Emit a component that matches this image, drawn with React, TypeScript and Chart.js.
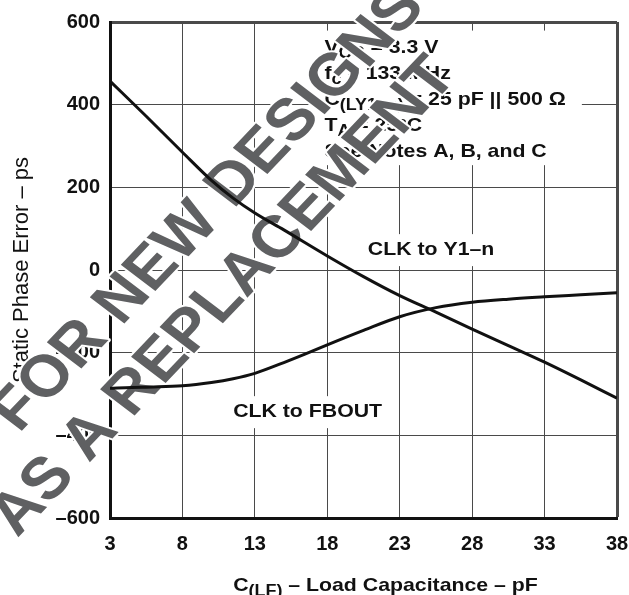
import React, { useEffect, useRef } from "react";
import { Chart, registerables } from "chart.js";

Chart.register(...registerables);

// ---- Data ----
const loadCapY1n = [3, 5.5, 8, 10, 11.5, 13, 15, 18, 20.5, 23, 25.5, 28, 30.5, 33, 35.5, 38];
const clkToY1n = [457, 372, 285, 217, 174, 138, 97, 34, -16, -62, -102, -143, -183, -223, -266, -310];
const loadCapFbout = [3, 4.5, 6, 8, 10, 11.5, 13, 15, 16.5, 18, 20.5, 23, 25.5, 28, 30.5, 33, 35.5, 38];
const clkToFbout = [-286, -284, -283, -280, -272, -263, -250, -224, -203, -181, -146, -113, -91, -78, -70.5, -65, -60, -55];
const xTickValues = [3, 8, 13, 18, 23, 28, 33, 38];
const yMin = -600;
const yMax = 600;
const yStep = 200;
const seriesNames = ["CLK to Y1–n", "CLK to FBOUT"];
// label anchors in data units (x, baseline y)
const seriesLabelAnchors = [
  [20.8, 36],
  [11.5, -356],
];
const noteAnchorX = 17.8;
const noteBaselines = [526, 462, 399, 337, 273];
const yTitle = "Static Phase Error – ps";
const watermarkLines = ["FOR NEW DESIGNS", "AS A REPLACEMENT"];

type Seg = { t: string; sub?: boolean };
const noteLines: Seg[][] = [
  [{ t: "V" }, { t: "CC", sub: true }, { t: " = 3.3 V" }],
  [{ t: "f" }, { t: "c", sub: true }, { t: " = 133 MHz" }],
  [{ t: "C" }, { t: "(LY1–n)", sub: true }, { t: " = 25 pF || 500 Ω" }],
  [{ t: "T" }, { t: "A", sub: true }, { t: " = 25°C" }],
  [{ t: "See Notes A, B, and C" }],
];
const xTitleSegs: Seg[] = [{ t: "C" }, { t: "(LF)", sub: true }, { t: " – Load Capacitance – pF" }];

const FAMILY = '"Liberation Sans", Arial, Helvetica, sans-serif';
const INK = "#111111";
const HS = 1.12; // horizontal stretch of the reference lettering

function fontFor(seg: Seg, size: number, subSize: number) {
  return `bold ${seg.sub ? subSize : size}px ${FAMILY}`;
}

function measureRich(ctx: CanvasRenderingContext2D, segs: Seg[], size: number, subSize: number) {
  let w = 0;
  for (const s of segs) {
    ctx.font = fontFor(s, size, subSize);
    w += ctx.measureText(s.t).width * HS;
  }
  return w;
}

function drawRich(
  ctx: CanvasRenderingContext2D,
  segs: Seg[],
  x: number,
  y: number,
  size: number,
  subSize: number,
  subDy: number
) {
  let cx = x;
  ctx.textAlign = "left";
  ctx.textBaseline = "alphabetic";
  for (const s of segs) {
    ctx.font = fontFor(s, size, subSize);
    const w = ctx.measureText(s.t).width;
    ctx.save();
    ctx.translate(cx, y + (s.sub ? subDy : 0));
    ctx.scale(HS, 1);
    ctx.fillText(s.t, 0, 0);
    ctx.restore();
    cx += w * HS;
  }
  return cx - x;
}

const decorPlugin = {
  id: "decor",
  beforeDraw(chart: any) {
    const { ctx, width, height } = chart;
    ctx.save();
    ctx.fillStyle = "#ffffff";
    ctx.fillRect(0, 0, width, height);
    ctx.restore();
  },
  beforeDatasetsDraw(chart: any) {
    const { ctx } = chart;
    const xs = chart.scales.x;
    const ys = chart.scales.y;
    const size = 19;
    const subSize = 16;
    ctx.save();

    // Notes block with white knockout box
    const nx = xs.getPixelForValue(noteAnchorX);
    const nb = noteBaselines.map((v) => ys.getPixelForValue(v));
    let maxW = 0;
    for (const line of noteLines) maxW = Math.max(maxW, measureRich(ctx, line, size, subSize));
    ctx.fillStyle = "#ffffff";
    ctx.fillRect(nx - 6, nb[0] - 22, maxW + 22, nb[nb.length - 1] - nb[0] + 30);
    ctx.fillStyle = INK;
    noteLines.forEach((line, i) => drawRich(ctx, line, nx, nb[i], size, subSize, 5));

    // Series labels
    seriesNames.forEach((name, i) => {
      const px = xs.getPixelForValue(seriesLabelAnchors[i][0]);
      const py = ys.getPixelForValue(seriesLabelAnchors[i][1]);
      const segs = [{ t: name }];
      const w = measureRich(ctx, segs, size, subSize);
      ctx.fillStyle = "#ffffff";
      ctx.fillRect(px - 6, py - 21, w + 12, 32);
      ctx.fillStyle = INK;
      drawRich(ctx, segs, px, py, size, subSize, 5);
    });

    // Watermark (stretched horizontally like the rest of the lettering)
    const centers = [
      [209, 210],
      [224, 297],
    ];
    const ang = (-49.5 * Math.PI) / 180;
    ctx.font = `bold 59px ${FAMILY}`;
    ctx.textAlign = "center";
    ctx.textBaseline = "middle";
    ctx.lineJoin = "round";
    watermarkLines.forEach((txt, i) => {
      ctx.save();
      ctx.translate(centers[i][0], centers[i][1]);
      ctx.scale(HS, 1);
      ctx.rotate(ang);
      ctx.strokeStyle = "#ffffff";
      ctx.lineWidth = 4;
      ctx.strokeText(txt, 0, 0);
      ctx.fillStyle = "#5f6062";
      ctx.fillText(txt, 0, 0);
      ctx.restore();
    });
    ctx.restore();
  },
  afterDraw(chart: any) {
    const { ctx, chartArea } = chart;
    ctx.save();
    ctx.fillStyle = INK;
    const size = 19;
    const subSize = 16;
    const w = measureRich(ctx, xTitleSegs, size, subSize);
    const cx = (chartArea.left + chartArea.right) / 2 + 22;
    drawRich(ctx, xTitleSegs, cx - w / 2, chartArea.bottom + 73, size, subSize, 5);
    ctx.restore();
  },
};

export default function App() {
  const canvasRef = useRef<HTMLCanvasElement | null>(null);

  useEffect(() => {
    const canvas = canvasRef.current;
    if (!canvas) return;
    const tickFont = { family: FAMILY, size: 20, weight: "bold" as const };
    const chart = new Chart(canvas, {
      type: "line",
      data: {
        datasets: [
          {
            label: seriesNames[0],
            data: loadCapY1n.map((x, i) => ({ x, y: clkToY1n[i] })),
            borderColor: INK,
            borderWidth: 3,
            pointRadius: 0,
            cubicInterpolationMode: "monotone",
            fill: false,
          },
          {
            label: seriesNames[1],
            data: loadCapFbout.map((x, i) => ({ x, y: clkToFbout[i] })),
            borderColor: INK,
            borderWidth: 3,
            pointRadius: 0,
            cubicInterpolationMode: "monotone",
            fill: false,
          },
        ],
      },
      options: {
        responsive: false,
        animation: false,
        devicePixelRatio: 1,
        layout: { padding: { left: 0, right: 12, top: 12, bottom: 0 } },
        plugins: {
          legend: { display: false },
          tooltip: { enabled: false },
          title: { display: false },
        },
        scales: {
          x: {
            type: "linear",
            min: xTickValues[0],
            max: xTickValues[xTickValues.length - 1],
            afterBuildTicks: (scale: any) => {
              scale.ticks = xTickValues.map((v) => ({ value: v }));
            },
            afterFit: (scale: any) => {
              scale.height = 77;
              scale.paddingLeft = 0;
              scale.paddingRight = 10;
            },
            grid: {
              color: "#4a4a4a",
              lineWidth: (c: any) => (c.tick && c.tick.value === xTickValues[xTickValues.length - 1] ? 3 : 1),
              drawTicks: false,
            },
            border: { display: true, color: INK, width: 3 },
            ticks: {
              color: INK,
              font: tickFont,
              padding: 14,
              maxRotation: 0,
              autoSkip: false,
            },
          },
          y: {
            type: "linear",
            min: yMin,
            max: yMax,
            afterFit: (scale: any) => {
              scale.width = 110;
            },
            grid: {
              color: "#4a4a4a",
              lineWidth: (c: any) => (c.tick && c.tick.value === yMax ? 3 : 1),
              drawTicks: false,
            },
            border: { display: true, color: INK, width: 3 },
            ticks: {
              color: INK,
              font: tickFont,
              padding: 10,
              stepSize: yStep,
              callback: (v: any) => String(v).replace("-", "–"),
            },
            title: {
              display: true,
              text: yTitle,
              color: INK,
              font: { family: FAMILY, size: 22, weight: "normal" },
              padding: { top: 9, bottom: 0 },
            },
          },
        },
      },
      plugins: [decorPlugin],
    } as any);
    return () => chart.destroy();
  }, []);

  return (
    <div style={{ position: "absolute", left: 0, top: 0, width: 629, height: 595 }}>
      <canvas ref={canvasRef} width={629} height={595} style={{ display: "block" }} />
    </div>
  );
}
